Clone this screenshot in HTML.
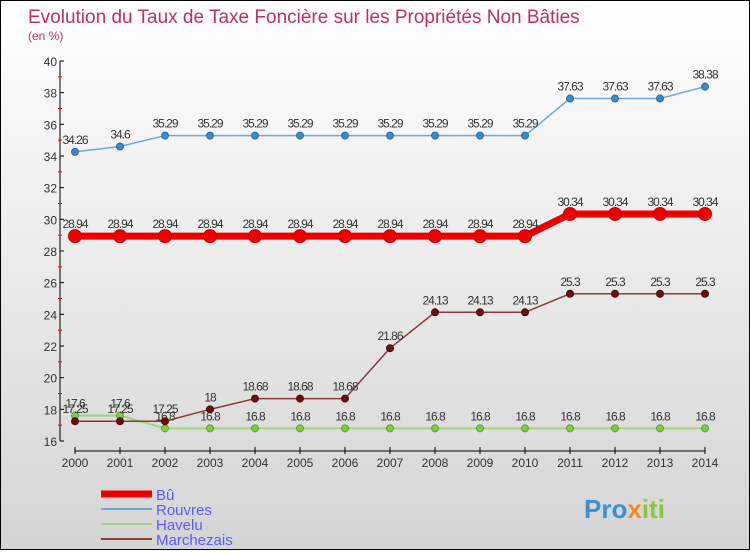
<!DOCTYPE html>
<html><head><meta charset="utf-8"><style>
html,body{margin:0;padding:0}
body{width:750px;height:550px;overflow:hidden;font-family:"Liberation Sans",sans-serif}
#wrap{position:absolute;left:0;top:0;width:748px;height:548px;border:1px solid #000;background:linear-gradient(#fff,#d4d4d4)}
</style></head><body>
<div id="wrap">
<svg id="chart" width="748" height="548" font-family="Liberation Sans, sans-serif"></svg>
</div>
<script>
const years=[2000,2001,2002,2003,2004,2005,2006,2007,2008,2009,2010,2011,2012,2013,2014];
const bu=[28.94,28.94,28.94,28.94,28.94,28.94,28.94,28.94,28.94,28.94,28.94,30.34,30.34,30.34,30.34];
const rouvres=[34.26,34.6,35.29,35.29,35.29,35.29,35.29,35.29,35.29,35.29,35.29,37.63,37.63,37.63,38.38];
const havelu=[17.6,17.6,16.8,16.8,16.8,16.8,16.8,16.8,16.8,16.8,16.8,16.8,16.8,16.8,16.8];
const marchezais=[17.25,17.25,17.25,18,18.68,18.68,18.68,21.86,24.13,24.13,24.13,25.3,25.3,25.3,25.3];
const yTicks=[16,18,20,22,24,26,28,30,32,34,36,38,40];
const NS="http://www.w3.org/2000/svg";
const svg=document.getElementById('chart');
const X=i=>74+45*i, Y=v=>440-(v-16)*(380/24);
function mk(t,a,p){const e=document.createElementNS(NS,t);for(const k in a)e.setAttribute(k,a[k]);(p||svg).appendChild(e);return e;}
function txt(x,y,s,a){const e=mk('text',Object.assign({x:x,y:y},a));e.textContent=s;return e;}
let t=txt(27,22,'Evolution du Taux de Taxe Foncière sur les Propriétés Non Bâties',{fill:'#c0305f','font-size':19});


t=txt(27,39,'(en %)',{fill:'#c0305f','font-size':12});


let ax=mk('line',{x1:59,y1:Y(40),x2:59,y2:Y(16),stroke:'#000'});


yTicks.forEach((v,i)=>{
  mk('line',{x1:59,x2:63,y1:Y(v),y2:Y(v),stroke:'#000'});
  if(i<yTicks.length-1)mk('line',{x1:57,x2:61,y1:Y(v+1),y2:Y(v+1),stroke:'red'});
  const l=txt(56,Y(v)+5,String(v),{'text-anchor':'end','font-size':12,fill:'#333'});
  
  
});
ax=mk('line',{x1:X(0),y1:450,x2:X(14),y2:450,stroke:'#000'});


years.forEach((yr,i)=>{
  mk('line',{x1:X(i),x2:X(i),y1:446,y2:453,stroke:'#000'});
  const l=txt(X(i),466,String(yr),{'text-anchor':'middle','font-size':12,fill:'#333'});
  
  
});
function series(name,data,color,w,r,ptFill,ptStroke){
  const g=mk('g',{});
  
  
  const p=mk('polyline',{points:data.map((v,i)=>X(i)+','+Y(v)).join(' '),fill:'none',stroke:color,'stroke-width':w},g);
  
  
  data.forEach((v,i)=>{
    const c=mk('circle',{cx:X(i),cy:Y(v),r:r,fill:ptFill,stroke:ptStroke,'stroke-width':1},g);
    
    
    const l=txt(X(i),Y(v)-8,String(v),{'text-anchor':'middle','font-size':12,fill:'#333','letter-spacing':'-1'},g);
    
    
  });
}
series('rouvres',rouvres,'#6fa8d8',1.5,3.5,'#3a8ad0','#2a6aa0');
series('havelu',havelu,'#9ed47a',2,3.5,'#7ad040','#5aa030');
series('marchezais',marchezais,'#8a3a3a',1.5,3.5,'#6a1010','#4a0a0a');
series('bu',bu,'#ee0000',7,6.5,'#ee0000','#cc0000');
const leg=[['Bû','#ee0000',7],['Rouvres','#6fa8d8',2],['Havelu','#9ed47a',2],['Marchezais','#8a3a3a',2]];
leg.forEach((e,i)=>{
  const y=493+i*15;
  const g=mk('g',{});
  
  
  mk('line',{x1:100,x2:151,y1:y,y2:y,stroke:e[1],'stroke-width':e[2]},g);
  txt(155,y+6,e[0],{'font-size':15,fill:'#5a5aff'},g);
});
const lg=txt(583,517,'',{'font-size':26,'font-weight':'bold'});


[['Pro','#3a90d0'],['x','#f08a20'],['iti','#8cc63f']].forEach(s=>{const sp=mk('tspan',{fill:s[1]},lg);sp.textContent=s[0];});
</script>
</body></html>
